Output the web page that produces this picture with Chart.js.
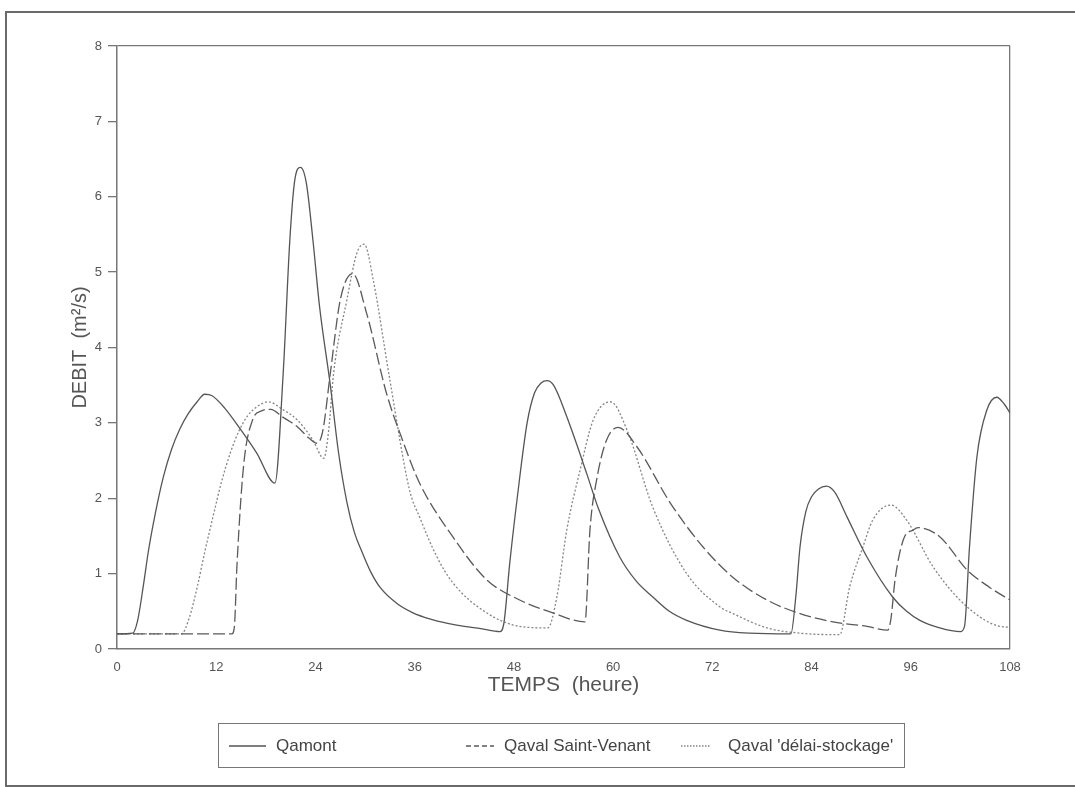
<!DOCTYPE html>
<html>
<head>
<meta charset="utf-8">
<script src="https://cdn.jsdelivr.net/npm/chart.js@4.4.0/dist/chart.umd.min.js"></script>
<style>
  body { margin: 0; background: #fff; width: 1075px; height: 787px; overflow: hidden; position: relative;
         font-family: "Liberation Sans", Arial, sans-serif; }
  #frame { position: absolute; left: 5px; top: 11px; width: 1090px; height: 772px;
           border: 2px solid #6a6a6a; border-right: none; }
  #chart { position: absolute; left: 0; top: 0; }
  #legend { position: absolute; left: 218px; top: 723px; width: 685px; height: 43px; border: 1.5px solid #777; }
  .sample { position: absolute; top: 20px; height: 4px; }
  .lab { position: absolute; top: 12px; font-size: 17px; line-height: 20px; color: #444; white-space: nowrap; }
</style>
</head>
<body>
<div id="frame"></div>
<canvas id="chart" width="1075" height="787"></canvas>
<div id="legend"></div>
<script>
// temps (heure) et debits (m2/s)
const amontT = [0, 1.9, 2.5, 3.2, 3.8, 4.6, 5.6, 6.6, 7.6, 8.6, 9.7, 10.6, 11.5, 13, 14.9, 16.9, 19.1,
  20.1, 20.9, 21.5, 22.2, 22.9, 23.7, 24.5, 25.8, 26.8, 27.8, 28.7, 29.7, 30.7, 31.8, 33.9, 35.8, 37.8,
  40, 42, 44, 46.3, 46.8, 47.5, 48.4, 49.6, 50.5, 51.3, 52, 52.8, 54.4, 56.8, 58.2, 60.8, 62.8, 64.8,
  66.8, 68.9, 72.9, 76.5, 81.5, 82.1, 82.6, 83.3, 84.0, 84.8, 85.8, 86.8, 88.3, 90.7, 93.8, 95.5, 97.1,
  99.5, 102, 102.5, 103.1, 104, 105.2, 106.4, 107.3, 108];
const amontQ = [0.2, 0.21, 0.38, 0.85, 1.3, 1.78, 2.28, 2.65, 2.92, 3.12, 3.28, 3.38, 3.36, 3.2, 2.92, 2.6, 2.2,
  3.66, 5.42, 6.22, 6.39, 6.18, 5.42, 4.54, 3.5, 2.6, 1.95, 1.55, 1.27, 1.02, 0.82, 0.6, 0.48, 0.4,
  0.34, 0.3, 0.27, 0.23, 0.35, 1.14, 2.0, 3.0, 3.4, 3.53, 3.56, 3.5, 3.08, 2.33, 1.87, 1.22, 0.9, 0.69,
  0.5, 0.38, 0.25, 0.21, 0.2, 0.7, 1.35, 1.82, 2.02, 2.12, 2.16, 2.08, 1.75, 1.22, 0.69, 0.5, 0.38,
  0.28, 0.23, 0.3, 1.35, 2.55, 3.17, 3.34, 3.25, 3.13];

const stVenantT = [0, 13.9, 14.2, 14.5, 15.3, 16.4, 17.5, 18.6, 20, 21.8, 23.2, 24.2, 24.9, 25.8, 27,
  28.5, 30.2, 32.6, 34.6, 36.6, 40.6, 44.7, 48.7, 52.7, 56.6, 57.2, 58, 59.2, 60.6, 62.9, 66.9, 70.9,
  74.5, 78.6, 82.6, 86.6, 90.7, 93.2, 93.6, 94.1, 95.1, 96.3, 96.9, 99.5, 102.8, 105.5, 108];
const stVenantQ = [0.2, 0.2, 0.3, 1.09, 2.42, 3.04, 3.16, 3.18, 3.08, 2.95, 2.8, 2.73, 2.9, 3.66, 4.63,
  4.98, 4.45, 3.39, 2.75, 2.2, 1.49, 0.92, 0.65, 0.48, 0.36, 1.58, 2.24, 2.77, 2.94, 2.68, 1.94, 1.35,
  0.95, 0.65, 0.47, 0.36, 0.3, 0.25, 0.4, 0.92, 1.45, 1.58, 1.61, 1.49, 1.05, 0.82, 0.65];

const delaiT = [0, 7.8, 8.7, 9.7, 10.6, 11.6, 12.6, 13.7, 14.7, 15.7, 17, 18.3, 20, 21.8, 23.7, 25,
  25.6, 26.2, 27.8, 29, 29.9, 31, 33, 35.4, 36.6, 38.7, 40.6, 44.7, 48.7, 52.1, 53.2, 54.4, 56, 57.6,
  59.7, 61.7, 64.8, 68.9, 72.9, 74.5, 78.6, 82.6, 87.4, 88.6, 90.2, 91.4, 93.6, 95.5, 98.7, 102.8,
  106.8, 108];
const delaiQ = [0.2, 0.2, 0.4, 0.82, 1.28, 1.75, 2.2, 2.6, 2.88, 3.08, 3.22, 3.28, 3.18, 3.04, 2.77, 2.53,
  2.9, 3.66, 4.63, 5.25, 5.37, 4.89, 3.57, 2.1, 1.75, 1.22, 0.88, 0.48, 0.3, 0.28, 0.69, 1.58, 2.37, 3.04,
  3.28, 2.9, 1.88, 1.0, 0.56, 0.47, 0.28, 0.21, 0.19, 0.82, 1.35, 1.71, 1.91, 1.71, 1.09, 0.56,
  0.3, 0.29];

const seriesNames = ['Qamont', 'Qaval Saint-Venant', "Qaval 'délai-stockage'"];
const lineColors = ['#555', '#5a5a5a', '#858585'];
const lineDashes = [[], [12, 4], [2, 2]];

const toXY = (ts, qs) => ts.map((t, i) => ({ x: t, y: qs[i] }));
const series = [toXY(amontT, amontQ), toXY(stVenantT, stVenantQ), toXY(delaiT, delaiQ)];

const axisCol = '#777';
const textCol = '#555';

new Chart(document.getElementById('chart'), {
  type: 'line',
  data: {
    datasets: series.map((d, i) => ({
      label: seriesNames[i],
      data: d,
      borderColor: lineColors[i],
      borderWidth: 1.3,
      borderDash: lineDashes[i],
      pointRadius: 0,
      fill: false,
      cubicInterpolationMode: 'monotone'
    }))
  },
  options: {
    responsive: false,
    animation: false,
    layout: { padding: { left: 68, top: 46, right: 65, bottom: 89 } },
    plugins: { legend: { display: false }, tooltip: { enabled: false } },
    scales: {
      x: {
        type: 'linear', min: 0, max: 108,
        afterFit: s => { s.height = 49; },
        ticks: { stepSize: 12, color: textCol, padding: 11, font: { family: 'Liberation Sans', size: 13 } },
        grid: { drawTicks: false, color: c => c.tick && c.tick.value === 108 ? axisCol : 'rgba(0,0,0,0)', lineWidth: 1.3 },
        border: { color: axisCol, width: 1.5 },
        title: { display: true, text: 'TEMPS  (heure)', color: textCol, padding: 0,
                 font: { family: 'Liberation Sans', size: 21 } }
      },
      y: {
        min: 0, max: 8,
        afterFit: s => { s.width = 49; },
        ticks: { stepSize: 1, color: textCol, padding: 6, font: { family: 'Liberation Sans', size: 13 } },
        grid: { tickLength: 9, tickColor: axisCol, color: c => c.tick && c.tick.value === 8 ? axisCol : 'rgba(0,0,0,0)', lineWidth: 1.3 },
        border: { color: axisCol, width: 1.5 },
        title: { display: true, text: 'DEBIT  (m²/s)', color: textCol, padding: 0,
                 font: { family: 'Liberation Sans', size: 20 } }
      }
    }
  }
});

// legende encadree sous le graphique
const legendPos = [[10, 37, 57], [247, 28, 285], [462, 30, 509]];
const legend = document.getElementById('legend');
seriesNames.forEach((name, i) => {
  const [sx, sw, tx] = legendPos[i];
  const svg = document.createElementNS('http://www.w3.org/2000/svg', 'svg');
  svg.setAttribute('class', 'sample');
  svg.setAttribute('width', sw);
  svg.style.left = sx + 'px';
  const ln = document.createElementNS('http://www.w3.org/2000/svg', 'line');
  ln.setAttribute('x1', 0); ln.setAttribute('x2', sw);
  ln.setAttribute('y1', 2); ln.setAttribute('y2', 2);
  ln.setAttribute('stroke', lineColors[i]);
  ln.setAttribute('stroke-width', 1.3);
  if (lineDashes[i].length) ln.setAttribute('stroke-dasharray', i === 1 ? '5 3' : '1.5 1.5');
  svg.appendChild(ln);
  legend.appendChild(svg);
  const lab = document.createElement('span');
  lab.className = 'lab';
  lab.style.left = tx + 'px';
  lab.textContent = name;
  legend.appendChild(lab);
});
</script>
</body>
</html>
